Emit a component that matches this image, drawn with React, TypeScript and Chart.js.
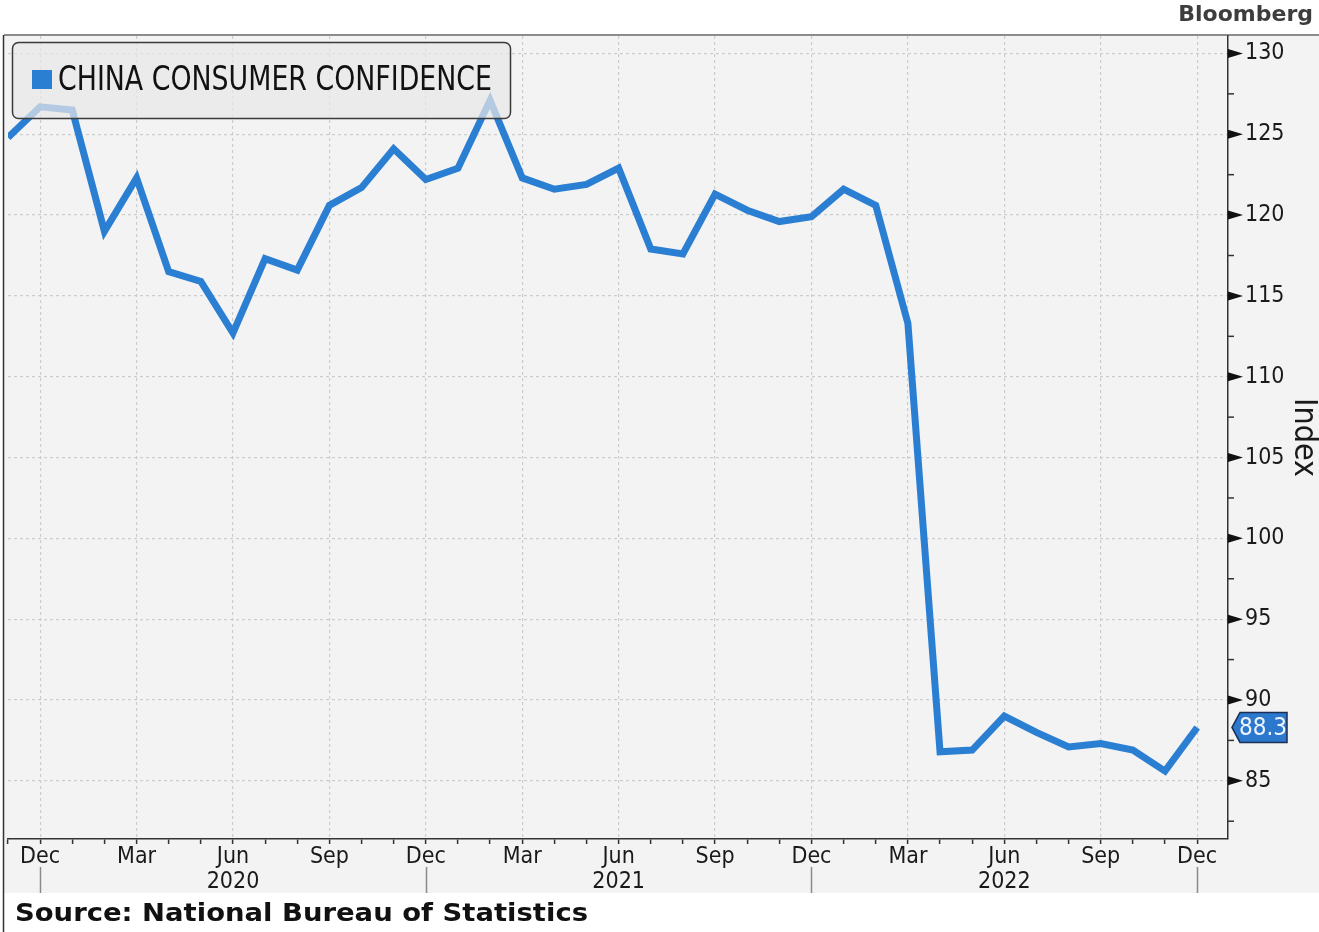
import React, { useEffect, useRef } from 'react';
import { Chart, registerables } from 'chart.js';

Chart.register(...registerables);

// ---------- data ----------
const months: string[] = [
  '2019-11', '2019-12',
  '2020-01', '2020-02', '2020-03', '2020-04', '2020-05', '2020-06',
  '2020-07', '2020-08', '2020-09', '2020-10', '2020-11', '2020-12',
  '2021-01', '2021-02', '2021-03', '2021-04', '2021-05', '2021-06',
  '2021-07', '2021-08', '2021-09', '2021-10', '2021-11', '2021-12',
  '2022-01', '2022-02', '2022-03', '2022-04', '2022-05', '2022-06',
  '2022-07', '2022-08', '2022-09', '2022-10', '2022-11', '2022-12',
];

const confidence: number[] = [
  124.8, 126.7,
  126.5, 119.0, 122.3, 116.5, 115.9, 112.7,
  117.3, 116.6, 120.6, 121.7, 124.1, 122.2,
  122.9, 127.1, 122.3, 121.6, 121.9, 122.9,
  117.9, 117.6, 121.3, 120.3, 119.6, 119.9,
  121.6, 120.6, 113.3, 86.8, 86.9, 89.0,
  88.0, 87.1, 87.3, 86.9, 85.6, 88.3,
];

const monthAbbr: string[] = ['Jan', 'Feb', 'Mar', 'Apr', 'May', 'Jun', 'Jul', 'Aug', 'Sep', 'Oct', 'Nov', 'Dec'];
const labelledMonths: string[] = ['Dec', 'Mar', 'Jun', 'Sep'];
const yearLabelMonth = 'Jun';
const yearSeparatorMonth = 'Dec';

const yTickValues: number[] = [85, 90, 95, 100, 105, 110, 115, 120, 125, 130];
const yMinorValues: number[] = [82.5, 87.5, 92.5, 97.5, 102.5, 107.5, 112.5, 117.5, 122.5, 127.5];
const yMin = 81.4;
const yMax = 131.08;

const seriesName = 'CHINA CONSUMER CONFIDENCE';
const axisTitle = 'Index';
const sourceText = 'Source: National Bureau of Statistics';
const brandText = 'Bloomberg';

// ---------- styles ----------
const W = 1319;
const H = 932;
const LINE_COLOR = '#2b7fd3';
const GRID_COLOR = '#cdcdcd';
const NARROW = "'Liberation Sans Narrow', 'DejaVu Sans Condensed', 'Liberation Sans', sans-serif";
const BOLD = "'DejaVu Sans', 'Liberation Sans', sans-serif";

const monthName = (i: number) => {
  const m = months[i];
  if (!m) return '';
  return monthAbbr[parseInt(m.slice(5, 7), 10) - 1];
};
const yearOf = (i: number) => (months[i] ? months[i].slice(0, 4) : '');

function fillTextFit(ctx: CanvasRenderingContext2D, text: string, x: number, y: number, width: number) {
  const w = ctx.measureText(text).width;
  const s = w > 0 ? width / w : 1;
  ctx.save();
  ctx.translate(x, y);
  ctx.scale(s, 1);
  ctx.textAlign = 'left';
  ctx.fillText(text, 0, 0);
  ctx.restore();
}

const decorPlugin = {
  id: 'decor',
  beforeDraw(chart: any) {
    const ctx: CanvasRenderingContext2D = chart.ctx;
    ctx.save();
    ctx.fillStyle = '#ffffff';
    ctx.fillRect(0, 0, W, H);
    // panel
    ctx.fillStyle = '#f3f3f3';
    ctx.fillRect(4, 35, W - 4, 893 - 35);
    // top border
    ctx.strokeStyle = '#8c8c8c';
    ctx.lineWidth = 2;
    ctx.beginPath();
    ctx.moveTo(4, 35);
    ctx.lineTo(W, 35);
    ctx.stroke();
    // left frame
    ctx.strokeStyle = '#333';
    ctx.lineWidth = 1.5;
    ctx.beginPath();
    ctx.moveTo(3.5, 35);
    ctx.lineTo(3.5, H);
    ctx.stroke();
    // brand
    ctx.fillStyle = '#3d3d3d';
    ctx.font = `bold 22px ${BOLD}`;
    ctx.textBaseline = 'middle';
    ctx.textAlign = 'right';
    ctx.fillText(brandText, 1313, 15);
    ctx.restore();
  },
  afterDatasetsDraw(chart: any) {
    const ctx: CanvasRenderingContext2D = chart.ctx;
    ctx.save();
    // legend box (semi-transparent over the line)
    ctx.beginPath();
    (ctx as any).roundRect(12.5, 42.5, 498, 76, 6);
    ctx.fillStyle = 'rgba(232,232,232,0.72)';
    ctx.fill();
    ctx.strokeStyle = '#3a3a3a';
    ctx.lineWidth = 1.5;
    ctx.stroke();
    ctx.fillStyle = LINE_COLOR;
    ctx.fillRect(32, 70, 20, 19);
    ctx.fillStyle = '#111';
    ctx.font = `34px ${NARROW}`;
    ctx.textBaseline = 'middle';
    fillTextFit(ctx, seriesName, 58, 81, 434);
    ctx.restore();
  },
  afterDraw(chart: any) {
    const ctx: CanvasRenderingContext2D = chart.ctx;
    const xs = chart.scales.x;
    const ys = chart.scales.y;
    const ax = chart.chartArea.right;
    ctx.save();
    // y major triangles
    ctx.fillStyle = '#111';
    yTickValues.forEach((v) => {
      const py = ys.getPixelForValue(v);
      ctx.beginPath();
      ctx.moveTo(ax, py - 4.5);
      ctx.lineTo(ax + 15, py);
      ctx.lineTo(ax, py + 4.5);
      ctx.closePath();
      ctx.fill();
    });
    // y minor ticks
    ctx.strokeStyle = '#333';
    ctx.lineWidth = 1.5;
    yMinorValues.forEach((v) => {
      const py = ys.getPixelForValue(v);
      ctx.beginPath();
      ctx.moveTo(ax, py);
      ctx.lineTo(ax + 6, py);
      ctx.stroke();
    });
    // year separators
    ctx.strokeStyle = '#8a8a8a';
    ctx.lineWidth = 1.5;
    months.forEach((_, i) => {
      if (monthName(i) !== yearSeparatorMonth) return;
      const px = Math.round(xs.getPixelForValue(i)) + 0.5;
      ctx.beginPath();
      ctx.moveTo(px, 867);
      ctx.lineTo(px, 893);
      ctx.stroke();
    });
    // last value tag
    const lastVal = confidence[confidence.length - 1];
    const ty = ys.getPixelForValue(lastVal);
    ctx.beginPath();
    ctx.moveTo(ax + 4, ty);
    ctx.lineTo(ax + 12, ty - 15);
    ctx.lineTo(ax + 59, ty - 15);
    ctx.lineTo(ax + 59, ty + 15);
    ctx.lineTo(ax + 12, ty + 15);
    ctx.closePath();
    ctx.fillStyle = '#2c78cc';
    ctx.fill();
    ctx.strokeStyle = '#1b2f55';
    ctx.lineWidth = 1.5;
    ctx.stroke();
    ctx.fillStyle = '#eef4ff';
    ctx.font = `24px ${NARROW}`;
    ctx.textAlign = 'center';
    ctx.textBaseline = 'middle';
    ctx.fillText(lastVal.toFixed(1), ax + 35, ty + 1);
    // source
    ctx.fillStyle = '#111';
    ctx.font = `bold 25px ${BOLD}`;
    ctx.textBaseline = 'middle';
    fillTextFit(ctx, sourceText, 15, 914, 573);
    ctx.restore();
  },
};

export default function App() {
  const canvasRef = useRef<HTMLCanvasElement | null>(null);

  useEffect(() => {
    const canvas = canvasRef.current;
    if (!canvas) return;
    const points = months.map((_, i) => ({ x: i, y: confidence[i] }));

    const chart = new Chart(canvas, {
      type: 'line',
      data: {
        datasets: [
          {
            label: seriesName,
            data: points,
            borderColor: LINE_COLOR,
            backgroundColor: LINE_COLOR,
            borderWidth: 7,
            pointRadius: 0,
            tension: 0,
            borderJoinStyle: 'miter',
            fill: false,
          },
        ],
      },
      options: {
        animation: false,
        responsive: false,
        devicePixelRatio: 1,
        layout: { padding: { left: 8, top: 36, right: 0, bottom: 39 } },
        plugins: {
          legend: { display: false },
          tooltip: { enabled: false },
          title: { display: false },
        },
        scales: {
          x: {
            type: 'linear',
            min: 0,
            max: 37.96,
            afterBuildTicks: (s: any) => {
              s.ticks = months.map((_, i) => ({ value: i }));
            },
            afterFit: (s: any) => {
              s.height = 54;
            },
            ticks: {
              autoSkip: false,
              maxRotation: 0,
              minRotation: 0,
              padding: 0,
              color: '#1a1a1a',
              font: { family: NARROW, size: 23, lineHeight: 1.1 },
              callback: (v: any) => {
                const i = Math.round(Number(v));
                const n = monthName(i);
                if (!labelledMonths.includes(n)) return '';
                if (n === yearLabelMonth) return [n, yearOf(i)];
                return n;
              },
            },
            grid: {
              color: (c: any) => {
                const i = c.tick ? Math.round(c.tick.value) : -1;
                return labelledMonths.includes(monthName(i)) ? GRID_COLOR : 'rgba(0,0,0,0)';
              },
              lineWidth: 1.2,
              drawTicks: true,
              tickLength: 5,
              tickColor: '#333',
              tickWidth: 1.5,
            },
            border: { display: true, color: '#333', width: 1.5, dash: [3, 3] },
          },
          y: {
            type: 'linear',
            position: 'right',
            min: yMin,
            max: yMax,
            afterBuildTicks: (s: any) => {
              s.ticks = yTickValues.map((v) => ({ value: v }));
            },
            afterFit: (s: any) => {
              s.width = 91;
            },
            ticks: {
              padding: 2,
              color: '#1a1a1a',
              font: { family: NARROW, size: 23 },
              callback: (v: any) => String(v),
            },
            grid: {
              color: GRID_COLOR,
              lineWidth: 1.2,
              drawTicks: true,
              tickLength: 15,
              tickColor: 'rgba(0,0,0,0)',
            },
            border: { display: true, color: '#333', width: 1.5, dash: [3, 3] },
            title: {
              display: true,
              text: axisTitle,
              color: '#1a1a1a',
              font: { family: NARROW, size: 32, lineHeight: 1 },
              padding: { top: 0, bottom: 0 },
            },
          },
        },
      } as any,
      plugins: [decorPlugin],
    });

    return () => chart.destroy();
  }, []);

  return (
    <div style={{ position: 'absolute', left: 0, top: 0, width: W, height: H, background: '#fff' }}>
      <canvas ref={canvasRef} width={W} height={H} style={{ display: 'block', width: W, height: H }} />
    </div>
  );
}
